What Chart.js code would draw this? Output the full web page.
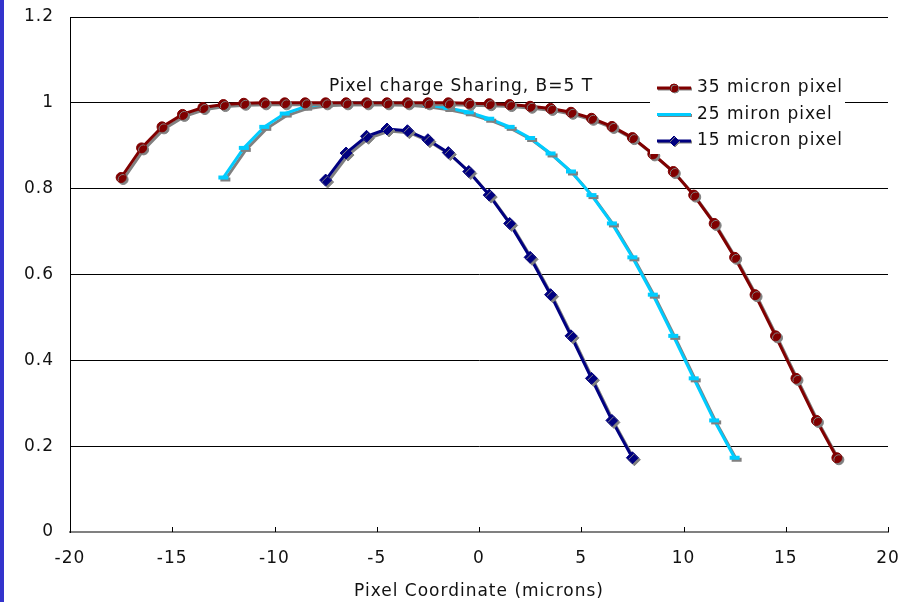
<!DOCTYPE html>
<html>
<head>
<meta charset="utf-8">
<title>Pixel charge Sharing</title>
<script src="https://cdn.jsdelivr.net/npm/chart.js@4.4.1/dist/chart.umd.min.js"></script>
<style>
  html, body { margin: 0; padding: 0; background: #fff; }
  #wrap { position: relative; width: 915px; height: 602px; overflow: hidden; }
  #strip { position: absolute; left: 0; top: 0; width: 4px; height: 602px; background: #3333cc; }
  #chart { position: absolute; left: 0; top: 0; }
</style>
</head>
<body>
<div id="wrap">
  <canvas id="chart" width="915" height="602"></canvas>
  <div id="strip"></div>
</div>
<script>
// values
const x35 = [-17.5, -16.5, -15.5, -14.5, -13.5, -12.5, -11.5, -10.5, -9.5, -8.5, -7.5, -6.5, -5.5, -4.5, -3.5, -2.5, -1.5, -0.5,
  0.5, 1.5, 2.5, 3.5, 4.5, 5.5, 6.5, 7.5, 8.5, 9.5, 10.5, 11.5, 12.5, 13.5, 14.5, 15.5, 16.5, 17.5];
const y35 = [0.826, 0.895, 0.944, 0.973, 0.989, 0.996, 0.999, 1.0, 1.0, 1.0, 1.0, 1.0, 1.0, 1.0, 1.0, 1.0, 1.0, 0.999,
  0.998, 0.996, 0.992, 0.987, 0.978, 0.964, 0.945, 0.919, 0.881, 0.840, 0.785, 0.719, 0.640, 0.553, 0.457, 0.358, 0.260, 0.173];

const x25 = [-12.5, -11.5, -10.5, -9.5, -8.5, -7.5, -6.5, -5.5, -4.5, -3.5, -2.5, -1.5, -0.5,
  0.5, 1.5, 2.5, 3.5, 4.5, 5.5, 6.5, 7.5, 8.5, 9.5, 10.5, 11.5, 12.5];
const y25 = [0.826, 0.895, 0.944, 0.975, 0.991, 0.998, 1.0, 1.0, 1.0, 0.999, 0.995, 0.988, 0.978,
  0.963, 0.944, 0.918, 0.882, 0.840, 0.785, 0.719, 0.640, 0.553, 0.457, 0.358, 0.260, 0.173];

const x15 = [-7.5, -6.5, -5.5, -4.5, -3.5, -2.5, -1.5, -0.5, 0.5, 1.5, 2.5, 3.5, 4.5, 5.5, 6.5, 7.5];
const y15 = [0.820, 0.883, 0.922, 0.939, 0.935, 0.914, 0.884, 0.840, 0.785, 0.719, 0.640, 0.553, 0.457, 0.358, 0.260, 0.173];

const seriesNames = ["35 micron pixel", "25 miron pixel", "15 micron pixel"];
const xTicks = [-20, -15, -10, -5, 0, 5, 10, 15, 20];
const yTicks = [0, 0.2, 0.4, 0.6, 0.8, 1, 1.2];
const chartTitle = "Pixel charge Sharing, B=5 T";
const xTitle = "Pixel Coordinate (microns)";

const FONT = "'DejaVu Sans', Verdana, sans-serif";
const FONT_SIZE = 17;

function toPoints(xs, ys) {
  return xs.map((x, i) => ({ x: x, y: ys[i] }));
}

// the original text is wide (Verdana-ish), so open up the letters a bit
const spacingPlugin = {
  id: 'spacing',
  beforeDraw: function (chart) {
    chart.ctx.letterSpacing = '1px';
  }
};

// grey drop shadow under every series, like the original
const shadowPlugin = {
  id: 'shadow',
  beforeDatasetDraw: function (chart) {
    const ctx = chart.ctx;
    ctx.save();
    ctx.shadowColor = 'rgba(128,128,128,1)';
    ctx.shadowOffsetX = 2;
    ctx.shadowOffsetY = 2;
    ctx.shadowBlur = 0;
  },
  afterDatasetDraw: function (chart) {
    chart.ctx.restore();
  }
};

// small tick marks pointing up from the x axis
const xTickPlugin = {
  id: 'xTickMarks',
  afterDraw: function (chart) {
    const ctx = chart.ctx;
    const xs = chart.scales.x;
    const bottom = chart.chartArea.bottom;
    ctx.save();
    ctx.strokeStyle = '#000';
    ctx.lineWidth = 1;
    xs.ticks.forEach(t => {
      const px = Math.round(xs.getPixelForValue(t.value)) + 0.5;
      ctx.beginPath();
      ctx.moveTo(px, bottom);
      ctx.lineTo(px, bottom - 5);
      ctx.stroke();
    });
    ctx.restore();
  }
};

// chart title text and the boxed legend inside the plot
const labelPlugin = {
  id: 'labels',
  afterDatasetsDraw: function (chart) {
    const ctx = chart.ctx;
    ctx.save();
    ctx.font = FONT_SIZE + 'px ' + FONT;
    ctx.fillStyle = '#111';
    ctx.textAlign = 'center';
    ctx.textBaseline = 'middle';
    ctx.fillText(chartTitle, 461, 87);

    // legend box
    const bx = 650, by = 72, bw = 195, bh = 82;
    ctx.fillStyle = '#fff';
    ctx.fillRect(bx, by, bw, bh);
    ctx.textAlign = 'left';
    chart.data.datasets.forEach((ds, i) => {
      const cy = 88 + i * 26.5;
      ctx.save();
      ctx.shadowColor = 'rgba(128,128,128,1)';
      ctx.shadowOffsetX = 1;
      ctx.shadowOffsetY = 1;
      ctx.strokeStyle = ds.borderColor;
      ctx.lineWidth = 3;
      ctx.beginPath();
      ctx.moveTo(657, cy);
      ctx.lineTo(691, cy);
      ctx.stroke();
      ctx.fillStyle = ds.pointBackgroundColor;
      ctx.strokeStyle = ds.pointBorderColor;
      ctx.lineWidth = 1;
      if (ds.pointStyle !== 'line') {
        Chart.helpers.drawPoint(ctx, {
          pointStyle: ds.pointStyle,
          radius: ds.pointRadius - 1,
          rotation: 0,
          borderWidth: 1
        }, 674, cy);
      }
      ctx.restore();
      ctx.fillStyle = '#111';
      ctx.fillText(ds.label, 697, cy);
    });
    ctx.restore();
  }
};

const ctx = document.getElementById('chart').getContext('2d');

new Chart(ctx, {
  type: 'scatter',
  data: {
    datasets: [{
      label: seriesNames[0],
      data: toPoints(x35, y35),
      showLine: true,
      borderColor: '#800000',
      backgroundColor: '#800000',
      pointBackgroundColor: '#800000',
      pointBorderColor: '#800000',
      borderWidth: 3,
      pointStyle: 'circle',
      pointRadius: 5,
      pointBorderWidth: 1
    }, {
      label: seriesNames[1],
      data: toPoints(x25, y25),
      showLine: true,
      borderColor: '#00ccff',
      backgroundColor: '#00ccff',
      pointBackgroundColor: '#00ccff',
      pointBorderColor: '#00ccff',
      borderWidth: 3,
      pointStyle: 'line',
      pointRadius: 5,
      pointBorderWidth: 4
    }, {
      label: seriesNames[2],
      data: toPoints(x15, y15),
      showLine: true,
      borderColor: '#000080',
      backgroundColor: '#000080',
      pointBackgroundColor: '#000080',
      pointBorderColor: '#000080',
      borderWidth: 3,
      pointStyle: 'rectRot',
      pointRadius: 6,
      pointBorderWidth: 1
    }]
  },
  options: {
    responsive: false,
    animation: false,
    layout: {
      padding: { top: 17, right: 27, left: 0, bottom: 0 }
    },
    elements: {
      line: { tension: 0 }
    },
    scales: {
      x: {
        type: 'linear',
        min: -20,
        max: 20,
        afterBuildTicks: function (scale) {
          scale.ticks = xTicks.map(v => ({ value: v }));
        },
        afterFit: function (scale) {
          scale.height = 70;
        },
        grid: { display: false, drawTicks: false },
        border: { display: true, color: '#808080', width: 2 },
        ticks: {
          padding: 16,
          color: '#111',
          font: { family: FONT, size: FONT_SIZE }
        },
        title: {
          display: true,
          text: xTitle,
          color: '#111',
          padding: { top: 8, bottom: 0 },
          font: { family: FONT, size: FONT_SIZE }
        }
      },
      y: {
        type: 'linear',
        min: 0,
        max: 1.2,
        afterBuildTicks: function (scale) {
          scale.ticks = yTicks.map(v => ({ value: v }));
        },
        afterFit: function (scale) {
          scale.width = 70;
          scale.paddingTop = 0;
          scale.paddingBottom = 0;
        },
        grid: { display: true, color: '#000', lineWidth: 1, drawTicks: false },
        border: { display: true, color: '#000', width: 1 },
        ticks: {
          padding: 16,
          color: '#111',
          font: { family: FONT, size: FONT_SIZE },
          callback: function (v) { return String(v); }
        }
      }
    },
    plugins: {
      legend: { display: false },
      tooltip: { enabled: false }
    }
  },
  plugins: [spacingPlugin, shadowPlugin, labelPlugin, xTickPlugin]
});
</script>
</body>
</html>
